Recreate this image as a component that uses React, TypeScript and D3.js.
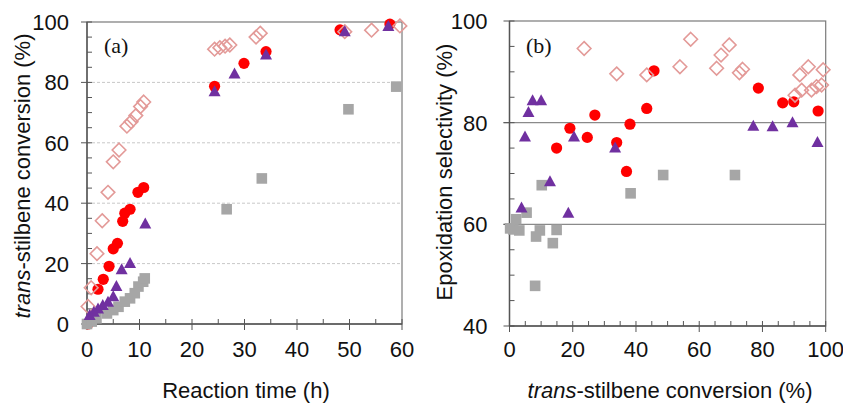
import React from "react";
import * as d3 from "d3";

// ---------- Panel (a): conversion vs reaction time ----------
const aDiamondT = [0.2, 0.8, 1.9, 2.9, 4.0, 5.0, 6.1, 7.6, 8.4, 9.3, 10.2, 10.8, 24.3, 25.3, 26.3, 27.2, 32.2, 33.0, 49.1, 54.2, 59.6];
const aDiamondV = [5.8, 12, 23.3, 34.2, 43.6, 53.7, 57.6, 65.5, 67, 69, 72, 73.5, 91, 91.5, 92, 92.4, 95, 96.3, 96.8, 97.3, 98.7];

const aCircleT = [0.2, 2.1, 3.1, 4.2, 5.0, 5.8, 6.8, 7.2, 8.2, 9.7, 10.8, 24.3, 29.9, 34.1, 48.2, 57.7];
const aCircleV = [0, 11.5, 14.8, 19.1, 24.9, 26.7, 34, 36.7, 38, 43.6, 45.2, 78.7, 86.3, 90.2, 97.4, 99.3];

const aTriT = [0.5, 1.3, 2.1, 3.0, 4.0, 5.0, 5.6, 6.6, 8.2, 11.1, 24.3, 28.1, 34.1, 49.1, 57.4];
const aTriV = [2.8, 3.9, 5.0, 6.1, 7.2, 9.0, 12.4, 18, 20, 33.1, 76.9, 82.8, 89.1, 96.8, 98.5];

const aSquareT = [0, 0.9, 1.8, 3.8, 5.0, 6.0, 7.2, 8.2, 9.1, 9.8, 10.7, 11.0, 26.6, 33.3, 49.8, 58.9];
const aSquareV = [0, 0.8, 1.9, 3.5, 4.6, 5.7, 7.4, 8.5, 10.2, 12.4, 14, 15.1, 38, 48.2, 71.1, 78.6];

// ---------- Panel (b): selectivity vs conversion ----------
const bDiamondC = [23.6, 33.9, 43.4, 53.9, 57.3, 65.5, 66.9, 69.5, 72.7, 73.7, 90.3, 91.8, 92.4, 94.5, 95.5, 97.1, 98.7, 99.2];
const bDiamondS = [94.6, 89.6, 89.4, 91, 96.4, 90.7, 93.3, 95.3, 89.8, 90.5, 85.4, 89.4, 86.4, 91, 86.4, 87.1, 87.4, 90.4];

const bCircleC = [14.9, 19.1, 24.6, 27.0, 33.9, 37.0, 38.1, 43.4, 45.7, 78.7, 86.4, 89.9, 97.6];
const bCircleS = [75, 78.9, 77.1, 81.5, 76.1, 70.4, 79.7, 82.8, 90.2, 86.8, 83.9, 84.1, 82.3];

const bTriC = [3.8, 4.9, 6.0, 7.3, 10.0, 12.8, 18.6, 20.4, 33.4, 77.1, 83.2, 89.5, 97.4];
const bTriS = [63.2, 77.2, 82, 84.3, 84.3, 68.4, 62.2, 77.2, 75, 79.3, 79.2, 80, 76.1];

const bSquareC = [0.2, 1.2, 2.1, 3.1, 5.4, 8.1, 8.4, 9.6, 10.2, 13.7, 14.9, 38.3, 48.6, 71.3];
const bSquareS = [59.2, 59, 61, 58.8, 62.3, 47.9, 57.6, 58.8, 67.7, 56.3, 58.9, 66.1, 69.7, 69.7];

const aXTicks = [0, 10, 20, 30, 40, 50, 60];
const aYTicks = [0, 20, 40, 60, 80, 100];
const bXTicks = [0, 20, 40, 60, 80, 100];
const bYTicks = [40, 60, 80, 100];

const RED = "#ff0000";
const PURPLE = "#7030a0";
const GRAY = "#a6a6a6";
const PINK = "#e39a98";
const AXIS = "#555";
const FONT = "'Liberation Sans', Arial, sans-serif";
const FS = 22;

type Pt = [number, number];
const zip = (a: number[], b: number[]): Pt[] => a.map((v, i) => [v, b[i]]);

function Markers({ pts, x, y, kind }: { pts: Pt[]; x: any; y: any; kind: string }) {
  return (
    <g>
      {pts.map(([px, py], i) => {
        const cx = x(px);
        const cy = y(py);
        if (kind === "circle") return <circle key={i} cx={cx} cy={cy} r={5.6} fill={RED} />;
        if (kind === "square") return <rect key={i} x={cx - 5.3} y={cy - 5.3} width={10.6} height={10.6} fill={GRAY} />;
        if (kind === "tri")
          return <path key={i} d={`M${cx},${cy - 6.5}L${cx + 6},${cy + 4.5}L${cx - 6},${cy + 4.5}Z`} fill={PURPLE} />;
        return (
          <path
            key={i}
            d={`M${cx},${cy - 6.8}L${cx + 6.8},${cy}L${cx},${cy + 6.8}L${cx - 6.8},${cy}Z`}
            fill="none"
            stroke={PINK}
            strokeWidth={1.6}
          />
        );
      })}
    </g>
  );
}

function Panel(props: {
  x0: number; x1: number; y0: number; y1: number;
  xd: [number, number]; yd: [number, number];
  xTicks: number[]; yTicks: number[]; xMinorStep: number; yMinorStep: number;
  gridDashed: boolean; label: string; labelX: number;
  yLabelOffset: number;
  series: { pts: Pt[]; kind: string }[];
}) {
  const { x0, x1, y0, y1, xd, yd } = props;
  const x = d3.scaleLinear().domain(xd).range([x0, x1]);
  const y = d3.scaleLinear().domain(yd).range([y1, y0]);
  const xMinor = d3.range(xd[0], xd[1] + 0.001, props.xMinorStep).filter((v) => !props.xTicks.includes(v));
  const yMinor = d3.range(yd[0], yd[1] + 0.001, props.yMinorStep).filter((v) => !props.yTicks.includes(v));
  const grid = props.yTicks.filter((v) => v !== yd[0] && v !== yd[1]);
  return (
    <g>
      {grid.map((v) => (
        <line
          key={"g" + v}
          x1={props.gridDashed ? x0 : x0 - 6}
          x2={x1}
          y1={y(v)}
          y2={y(v)}
          stroke={props.gridDashed ? "#c8c8c8" : "#8a8a8a"}
          strokeWidth={props.gridDashed ? 1 : 1.2}
          strokeDasharray={props.gridDashed ? "3,2" : undefined}
        />
      ))}
      <rect x={x0} y={y0} width={x1 - x0} height={y1 - y0} fill="none" stroke="#7a7a7a" strokeWidth={1.2} />
      <line x1={x0} x2={x1} y1={y1} y2={y1} stroke={AXIS} strokeWidth={1.4} />
      <line x1={x0} x2={x0} y1={y0} y2={y1} stroke={AXIS} strokeWidth={1.4} />
      {xMinor.map((v) => (
        <line key={"xm" + v} x1={x(v)} x2={x(v)} y1={y1} y2={y1 - 5} stroke={AXIS} />
      ))}
      {props.xTicks.map((v) => (
        <line key={"xM" + v} x1={x(v)} x2={x(v)} y1={y1 - 5} y2={y1 + 6} stroke={AXIS} />
      ))}
      {yMinor.map((v) => (
        <line key={"ym" + v} x1={x0} x2={x0 + 5} y1={y(v)} y2={y(v)} stroke={AXIS} />
      ))}
      {props.yTicks.map((v) => (
        <line key={"yM" + v} x1={x0 - 6} x2={x0 + 5} y1={y(v)} y2={y(v)} stroke={AXIS} />
      ))}
      {props.xTicks.map((v) => (
        <text key={"xl" + v} x={x(v)} y={357} textAnchor="middle" fontSize={FS} fontFamily={FONT} fill="#111">
          {v}
        </text>
      ))}
      {props.yTicks.map((v) => (
        <text
          key={"yl" + v}
          x={x0 - props.yLabelOffset}
          y={y(v) + 8}
          textAnchor="end"
          fontSize={FS}
          fontFamily={FONT}
          fill="#111"
        >
          {v}
        </text>
      ))}
      <text x={props.labelX} y={53} fontSize={22} fontFamily="'Liberation Serif', 'Times New Roman', serif" fill="#111">
        {props.label}
      </text>
      {props.series.map((s, i) => (
        <Markers key={i} pts={s.pts} x={x} y={y} kind={s.kind} />
      ))}
    </g>
  );
}

export default function App() {
  return (
    <svg
      width={843}
      height={403}
      style={{ position: "absolute", left: 0, top: 0, display: "block", background: "#fff" }}
    >
      <rect x={0} y={0} width={843} height={403} fill="#fff" />
      <Panel
        x0={87} x1={402} y0={22} y1={324}
        xd={[0, 60]} yd={[0, 100]}
        xTicks={aXTicks} yTicks={aYTicks} xMinorStep={5} yMinorStep={5}
        gridDashed={true} label="(a)" labelX={104} yLabelOffset={18}
        series={[
          { pts: zip(aCircleT, aCircleV), kind: "circle" },
          { pts: zip(aSquareT, aSquareV), kind: "square" },
          { pts: zip(aDiamondT, aDiamondV), kind: "diamond" },
          { pts: zip(aTriT, aTriV), kind: "tri" },
        ]}
      />
      <Panel
        x0={509.5} x1={825.7} y0={21} y1={326}
        xd={[0, 100]} yd={[40, 100]}
        xTicks={bXTicks} yTicks={bYTicks} xMinorStep={5} yMinorStep={5}
        gridDashed={false} label="(b)" labelX={526} yLabelOffset={22}
        series={[
          { pts: zip(bCircleC, bCircleS), kind: "circle" },
          { pts: zip(bSquareC, bSquareS), kind: "square" },
          { pts: zip(bDiamondC, bDiamondS), kind: "diamond" },
          { pts: zip(bTriC, bTriS), kind: "tri" },
        ]}
      />
      {/* axis titles */}
      <text x={246} y={398} textAnchor="middle" fontSize={FS} fontFamily={FONT} fill="#111">
        Reaction time (h)
      </text>
      <text x={670} y={398} textAnchor="middle" fontSize={FS} fontFamily={FONT} fill="#111">
        <tspan fontStyle="italic">trans</tspan>-stilbene conversion (%)
      </text>
      <text
        transform="translate(30,176) rotate(-90)"
        textAnchor="middle"
        fontSize={FS}
        fontFamily={FONT}
        fill="#111"
      >
        <tspan fontStyle="italic">trans</tspan>-stilbene conversion (%)
      </text>
      <text
        transform="translate(452,172) rotate(-90)"
        textAnchor="middle"
        fontSize={FS}
        fontFamily={FONT}
        fill="#111"
      >
        Epoxidation selectivity (%)
      </text>
    </svg>
  );
}
